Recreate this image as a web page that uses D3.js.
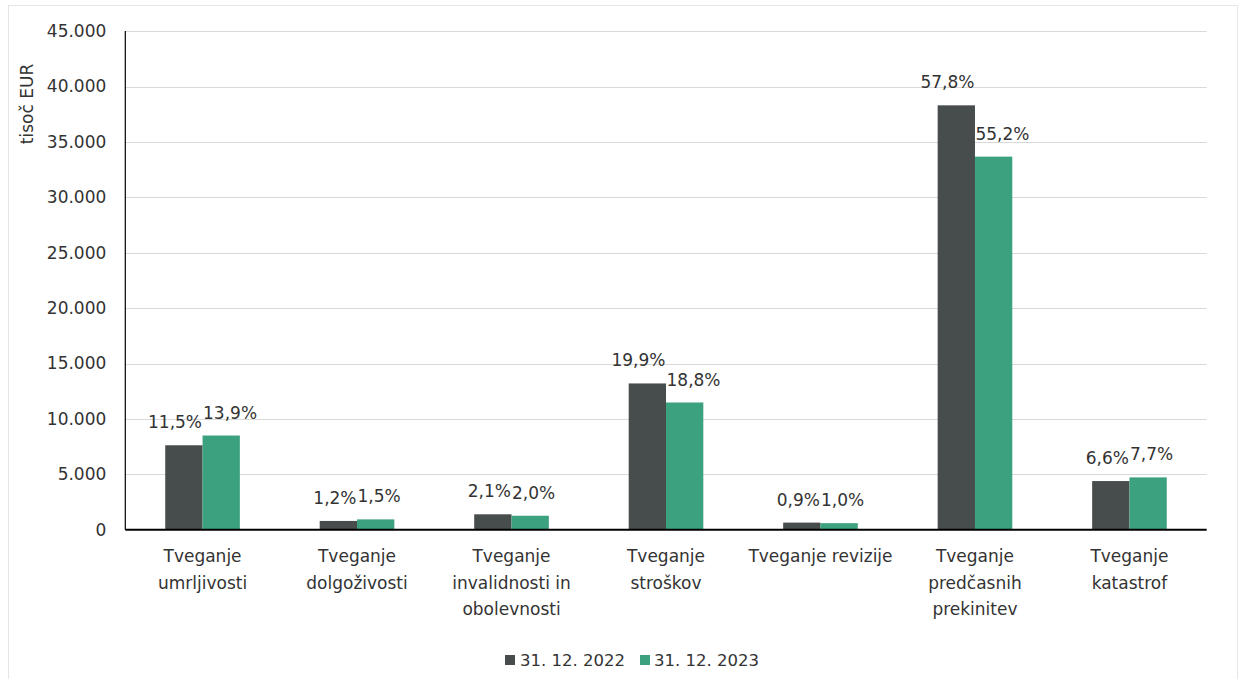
<!DOCTYPE html>
<html>
<head>
<meta charset="utf-8">
<script src="https://cdn.jsdelivr.net/npm/d3@7"></script>
<style>
  html, body { margin: 0; padding: 0; background: #fff; }
  svg { display: block; font-family: "DejaVu Sans", "Open Sans", sans-serif; }
</style>
</head>
<body>
<svg id="chart" width="1239" height="679"></svg>
<script>
// ---- Data ----
const categories = [
  "Tveganje\numrljivosti",
  "Tveganje\ndolgoživosti",
  "Tveganje\ninvalidnosti in\nobolevnosti",
  "Tveganje\nstroškov",
  "Tveganje revizije",
  "Tveganje\npredčasnih\nprekinitev",
  "Tveganje\nkatastrof"
];
const seriesNames = ["31. 12. 2022", "31. 12. 2023"];
const values2022 = [7620, 790, 1390, 13200, 640, 38300, 4390];
const values2023 = [8500, 930, 1260, 11480, 590, 33670, 4720];
const labels2022 = ["11,5%", "1,2%", "2,1%", "19,9%", "0,9%", "57,8%", "6,6%"];
const labels2023 = ["13,9%", "1,5%", "2,0%", "18,8%", "1,0%", "55,2%", "7,7%"];
const yTicks = [0, 5000, 10000, 15000, 20000, 25000, 30000, 35000, 40000, 45000];
const yTickLabels = ["0", "5.000", "10.000", "15.000", "20.000", "25.000", "30.000", "35.000", "40.000", "45.000"];
const yAxisTitle = "tisoč EUR";

// ---- Layout ----
const colors = ["#464D4C", "#3BA17F"];
const textColor = "#333333";
const fontSize = 17;
const svg = d3.select("#chart");
const W = 1239, H = 679;
const plot = { left: 125.3, right: 1206.7, top: 31.1, bottom: 529.7 };

svg.append("rect").attr("x", 0).attr("y", 0).attr("width", W).attr("height", H).attr("fill", "#fff");
svg.append("rect").attr("x", 8.5).attr("y", 5.5).attr("width", W - 10).attr("height", H - 4)
  .attr("fill", "none").attr("stroke", "#e6e6e6").attr("stroke-width", 1);

const x = d3.scaleBand().domain(d3.range(categories.length))
  .range([plot.left, plot.right]).paddingInner(0.517).paddingOuter(0.2585);
const x1 = d3.scaleBand().domain([0, 1]).range([0, x.bandwidth()]);
const y = d3.scaleLinear().domain([0, 45000]).range([plot.bottom, plot.top]);

// gridlines
svg.append("g").selectAll("line").data(yTicks.filter(d => d > 0)).join("line")
  .attr("x1", plot.left).attr("x2", plot.right)
  .attr("y1", d => Math.round(y(d)) + 0.5).attr("y2", d => Math.round(y(d)) + 0.5)
  .attr("stroke", "#d9d9d9").attr("stroke-width", 1);

// y tick labels
const yAxis = d3.axisLeft(y).tickValues(yTicks)
  .tickFormat((d, i) => yTickLabels[i]).tickSize(0).tickPadding(19);
const gy = svg.append("g").attr("transform", `translate(${plot.left},0)`).call(yAxis);
gy.select(".domain").remove();
gy.selectAll("text").attr("font-size", fontSize).attr("fill", textColor)
  .attr("font-family", "'DejaVu Sans', sans-serif");

// y axis title
svg.append("text")
  .attr("transform", `translate(33,104) rotate(-90)`)
  .attr("text-anchor", "middle")
  .attr("font-size", fontSize).attr("fill", textColor)
  .text(yAxisTitle);

// bars
const series = [values2022, values2023];
const labelSets = [labels2022, labels2023];
series.forEach((vals, s) => {
  svg.append("g").selectAll("rect").data(vals).join("rect")
    .attr("x", (d, i) => x(i) + x1(s))
    .attr("width", x1.bandwidth())
    .attr("y", d => y(d))
    .attr("height", d => y(0) - y(d))
    .attr("fill", colors[s]);
});

// data labels (pushed apart when they would overlap)
const lg = svg.append("g").attr("font-size", fontSize).attr("fill", textColor).attr("text-anchor", "middle");
categories.forEach((c, i) => {
  const items = [0, 1].map(s => {
    const t = lg.append("text").text(labelSets[s][i]);
    const w = t.node().getComputedTextLength();
    return { t, w, cx: x(i) + x1(s) + x1.bandwidth() / 2, s };
  });
  const a = items[0], b = items[1];
  const gap = (b.cx - b.w / 2) - (a.cx + a.w / 2);
  if (gap < 1) {
    const push = (1 - gap) / 2;
    a.cx -= push; b.cx += push;
  }
  items.forEach(it => {
    const v = series[it.s][i];
    it.t.attr("x", it.cx).attr("y", y(v) - 17);
  });
});

// y axis line and x axis line
svg.append("line").attr("x1", plot.left).attr("x2", plot.left)
  .attr("y1", plot.top).attr("y2", plot.bottom).attr("stroke", "#000").attr("stroke-width", 1.2);
svg.append("line").attr("x1", plot.left).attr("x2", plot.right)
  .attr("y1", plot.bottom).attr("y2", plot.bottom).attr("stroke", "#000").attr("stroke-width", 2);

// category labels
const cg = svg.append("g").attr("font-size", fontSize).attr("fill", textColor).attr("text-anchor", "middle");
categories.forEach((c, i) => {
  const t = cg.append("text").attr("x", x(i) + x.bandwidth() / 2).attr("y", 562);
  c.split("\n").forEach((line, k) => {
    t.append("tspan").attr("x", x(i) + x.bandwidth() / 2).attr("y", 562 + k * 26.5).text(line);
  });
});

// legend
const leg = svg.append("g").attr("font-size", 16.5).attr("fill", textColor);
const legItems = [{ sq: 505, tx: 520 }, { sq: 640, tx: 654 }];
seriesNames.forEach((n, s) => {
  leg.append("rect").attr("x", legItems[s].sq).attr("y", 655).attr("width", 10).attr("height", 10).attr("fill", colors[s]);
  leg.append("text").attr("x", legItems[s].tx).attr("y", 666).text(n);
});
</script>
</body>
</html>
